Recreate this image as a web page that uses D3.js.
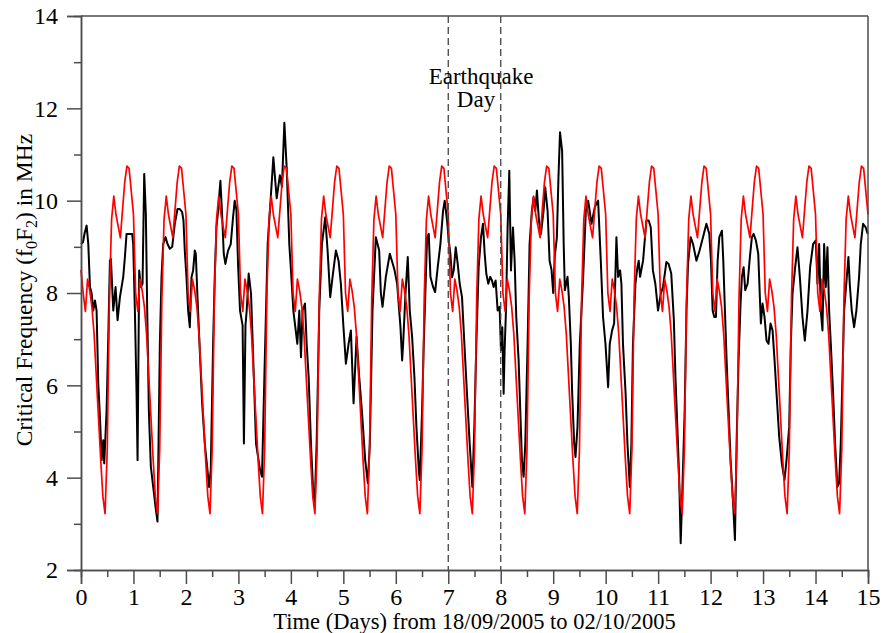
<!DOCTYPE html>
<html><head><meta charset="utf-8">
<script src="https://cdn.jsdelivr.net/npm/d3@7"></script>
<style>html,body{margin:0;padding:0;background:#fff}svg{display:block}</style>
</head><body><svg id="c" width="888" height="633"></svg>
<script>
// Hourly model (median) foF2 values, MHz, from day 0 00:00 to day 15 00:00
const medianFoF2 = [
8.5,8.0,7.6,8.3,8.05,7.7,7.1,6.2,5.3,4.4,3.6,3.22,4.6,7.9,9.6,10.1,9.7,9.45,9.2,9.8,10.4,10.75,10.7,10.2,
9.7,8.0,7.6,8.3,8.05,7.7,7.1,6.2,5.3,4.4,3.6,3.22,4.6,7.9,9.6,10.1,9.7,9.45,9.2,9.8,10.4,10.75,10.7,10.2,
9.7,8.0,7.6,8.3,8.05,7.7,7.1,6.2,5.3,4.4,3.6,3.22,4.6,7.9,9.6,10.1,9.7,9.45,9.2,9.8,10.4,10.75,10.7,10.2,
9.7,8.0,7.6,8.3,8.05,7.7,7.1,6.2,5.3,4.4,3.6,3.22,4.6,7.9,9.6,10.1,9.7,9.45,9.2,9.8,10.4,10.75,10.7,10.2,
9.7,8.0,7.6,8.3,8.05,7.7,7.1,6.2,5.3,4.4,3.6,3.22,4.6,7.9,9.6,10.1,9.7,9.45,9.2,9.8,10.4,10.75,10.7,10.2,
9.7,8.0,7.6,8.3,8.05,7.7,7.1,6.2,5.3,4.4,3.6,3.22,4.6,7.9,9.6,10.1,9.7,9.45,9.2,9.8,10.4,10.75,10.7,10.2,
9.7,8.0,7.6,8.3,8.05,7.7,7.1,6.2,5.3,4.4,3.6,3.22,4.6,7.9,9.6,10.1,9.7,9.45,9.2,9.8,10.4,10.75,10.7,10.2,
9.7,8.0,7.6,8.3,8.05,7.7,7.1,6.2,5.3,4.4,3.6,3.22,4.6,7.9,9.6,10.1,9.7,9.45,9.2,9.8,10.4,10.75,10.7,10.2,
9.7,8.0,7.6,8.3,8.05,7.7,7.1,6.2,5.3,4.4,3.6,3.22,4.6,7.9,9.6,10.1,9.7,9.45,9.2,9.8,10.4,10.75,10.7,10.2,
9.7,8.0,7.6,8.3,8.05,7.7,7.1,6.2,5.3,4.4,3.6,3.22,4.6,7.9,9.6,10.1,9.7,9.45,9.2,9.8,10.4,10.75,10.7,10.2,
9.7,8.0,7.6,8.3,8.05,7.7,7.1,6.2,5.3,4.4,3.6,3.22,4.6,7.9,9.6,10.1,9.7,9.45,9.2,9.8,10.4,10.75,10.7,10.2,
9.7,8.0,7.6,8.3,8.05,7.7,7.1,6.2,5.3,4.4,3.6,3.22,4.6,7.9,9.6,10.1,9.7,9.45,9.2,9.8,10.4,10.75,10.7,10.2,
9.7,8.0,7.6,8.3,8.05,7.7,7.1,6.2,5.3,4.4,3.6,3.22,4.6,7.9,9.6,10.1,9.7,9.45,9.2,9.8,10.4,10.75,10.7,10.2,
9.7,8.0,7.6,8.3,8.05,7.7,7.1,6.2,5.3,4.4,3.6,3.22,4.6,7.9,9.6,10.1,9.7,9.45,9.2,9.8,10.4,10.75,10.7,10.2,
9.7,8.0,7.6,8.3,8.05,7.7,7.1,6.2,5.3,4.4,3.6,3.22,4.6,7.9,9.6,10.1,9.7,9.45,9.2,9.8,10.4,10.75,10.7,10.2,
9.7
];

// Observed foF2: [day, MHz]
const observedFoF2 = [
[0,9.06],[0.037,9.1],[0.07,9.3],[0.107,9.46],[0.139,9.06],[0.171,8.13],[0.202,8.0],[0.234,7.62],[0.266,7.84],[0.297,7.62],[0.329,6.04],[0.361,5.32],[0.393,4.38],[0.424,4.81],[0.443,4.31],[0.488,5.46],[0.52,7.05],[0.551,8.7],[0.57,8.74],[0.615,7.62],[0.659,8.13],[0.697,7.41],[0.742,7.91],[0.805,8.35],[0.837,8.78],[0.868,9.28],[0.9,9.28],[0.976,9.28],[0.995,9.06],
[1.027,7.62],[1.059,5.82],[1.078,4.38],[1.109,8.49],[1.141,8.13],[1.173,8.2],[1.205,10.58],[1.236,9.71],[1.262,7.62],[1.293,5.46],[1.331,4.24],[1.376,3.8],[1.42,3.37],[1.458,3.05],[1.503,6.9],[1.535,8.35],[1.566,9.06],[1.611,9.21],[1.649,9.06],[1.693,8.96],[1.738,9.0],[1.788,9.5],[1.839,9.82],[1.883,9.82],[1.928,9.75],[1.953,9.57],[1.978,8.92],
[2.01,8.35],[2.042,7.62],[2.074,7.26],[2.106,8.34],[2.137,8.49],[2.169,8.92],[2.188,8.85],[2.22,7.91],[2.264,6.76],[2.309,5.61],[2.359,4.74],[2.41,4.17],[2.441,3.8],[2.473,4.17],[2.518,6.9],[2.549,8.35],[2.581,9.42],[2.613,9.78],[2.657,10.43],[2.689,9.71],[2.721,8.85],[2.752,8.63],[2.803,8.92],[2.854,9.06],[2.898,9.64],[2.93,10.0],[2.962,9.8],[2.994,8.6],
[3.031,7.62],[3.08,7.3],[3.105,4.74],[3.135,7.3],[3.158,7.62],[3.196,8.42],[3.241,7.98],[3.285,6.5],[3.336,4.74],[3.412,4.17],[3.45,4.02],[3.495,6.18],[3.558,9.06],[3.609,9.93],[3.666,10.94],[3.73,10.05],[3.79,10.55],[3.83,10.3],[3.876,11.69],[3.92,10.72],[3.97,9.06],
[4.002,8.49],[4.047,7.62],[4.085,7.26],[4.123,6.9],[4.161,7.62],[4.193,6.61],[4.224,7.62],[4.269,7.77],[4.301,6.9],[4.339,6.18],[4.383,4.74],[4.427,3.66],[4.453,3.37],[4.491,4.74],[4.541,7.62],[4.592,9.06],[4.655,9.64],[4.7,8.92],[4.75,7.91],[4.795,8.35],[4.858,8.92],[4.909,8.7],[4.953,8.2],[4.998,7.34],
[5.049,6.47],[5.1,6.9],[5.144,7.19],[5.195,5.61],[5.252,7.05],[5.303,6.18],[5.353,5.46],[5.417,4.38],[5.467,3.88],[5.505,4.74],[5.556,7.62],[5.62,9.21],[5.683,8.92],[5.715,8.0],[5.747,7.7],[5.81,8.35],[5.886,8.85],[5.95,8.6],[5.975,8.5],
[6.025,8.2],[6.089,7.26],[6.121,6.54],[6.14,6.9],[6.184,7.98],[6.228,8.78],[6.266,7.62],[6.311,7.05],[6.355,6.18],[6.393,5.1],[6.438,4.17],[6.457,3.95],[6.501,5.46],[6.533,6.9],[6.565,8.06],[6.596,9.21],[6.628,9.28],[6.66,8.35],[6.71,8.13],[6.749,8.02],[6.799,8.56],[6.85,9.06],[6.901,9.78],[6.932,10.0],[6.977,9.57],
[7.009,9.14],[7.04,8.85],[7.072,8.34],[7.104,8.49],[7.142,8.99],[7.18,8.63],[7.218,8.2],[7.262,7.91],[7.307,6.9],[7.357,5.82],[7.408,4.74],[7.459,3.8],[7.497,5.1],[7.535,6.9],[7.579,8.56],[7.624,9.21],[7.662,9.5],[7.694,8.85],[7.725,8.42],[7.763,8.2],[7.801,8.35],[7.833,8.27],[7.865,8.13],[7.903,8.27],[7.941,7.62],[7.979,7.7],
[8.004,6.76],[8.03,7.26],[8.055,5.82],[8.074,6.76],[8.1,7.62],[8.131,9.42],[8.163,10.65],[8.195,8.49],[8.233,9.42],[8.265,8.7],[8.296,7.48],[8.341,6.54],[8.372,5.46],[8.404,4.38],[8.436,4.02],[8.468,4.74],[8.512,6.9],[8.55,9.06],[8.594,9.78],[8.626,10.07],[8.658,9.78],[8.69,10.22],[8.728,9.57],[8.766,9.28],[8.816,9.78],[8.848,10.29],[8.893,9.78],[8.931,8.7],[8.968,8.5],
[9.0,8.0],[9.03,8.8],[9.07,9.2],[9.1,10.5],[9.13,11.48],[9.17,11.08],[9.2,9.06],[9.222,8.06],[9.273,8.35],[9.298,7.91],[9.336,6.9],[9.362,5.82],[9.4,4.74],[9.425,4.45],[9.463,5.1],[9.507,6.9],[9.571,8.35],[9.622,9.78],[9.666,10.0],[9.73,9.5],[9.793,9.86],[9.856,10.0],[9.907,8.7],[9.95,7.48],[9.996,6.9],
[10.047,5.96],[10.078,6.9],[10.123,7.19],[10.161,7.34],[10.205,9.21],[10.237,8.35],[10.275,8.49],[10.3,8.2],[10.33,6.9],[10.38,5.82],[10.415,4.74],[10.46,3.8],[10.49,4.74],[10.52,6.9],[10.567,8.2],[10.605,8.56],[10.63,8.7],[10.656,8.35],[10.713,8.7],[10.776,9.57],[10.82,9.57],[10.86,9.42],[10.9,8.49],[10.947,8.2],[10.998,7.62],
[11.05,7.98],[11.093,8.13],[11.157,8.67],[11.2,8.63],[11.25,8.42],[11.3,7.41],[11.33,6.18],[11.366,5.1],[11.4,4.02],[11.43,2.58],[11.46,3.66],[11.506,5.46],[11.54,7.62],[11.57,8.63],[11.62,9.21],[11.665,9.06],[11.73,8.7],[11.79,8.92],[11.855,9.21],[11.92,9.5],[11.975,9.28],
[12.007,8.7],[12.039,7.62],[12.07,7.48],[12.102,7.48],[12.134,8.7],[12.166,9.21],[12.216,9.35],[12.242,8.7],[12.273,7.62],[12.305,6.54],[12.343,5.46],[12.381,4.38],[12.419,3.66],[12.445,3.08],[12.464,2.65],[12.495,4.74],[12.533,6.54],[12.571,7.77],[12.597,8.35],[12.629,8.56],[12.66,8.06],[12.705,8.2],[12.749,8.78],[12.787,9.21],[12.819,9.28],[12.863,9.14],[12.908,8.85],[12.939,7.91],[12.958,7.34],[12.99,7.77],
[13.028,7.48],[13.066,6.97],[13.104,6.9],[13.142,7.34],[13.181,7.19],[13.219,6.54],[13.257,5.82],[13.307,4.89],[13.358,4.31],[13.409,3.95],[13.447,4.38],[13.498,5.1],[13.529,6.9],[13.561,7.98],[13.612,8.56],[13.656,8.99],[13.701,8.35],[13.751,7.48],[13.796,6.97],[13.847,7.62],[13.897,8.56],[13.954,9.06],
[14.005,9.14],[14.037,8.2],[14.069,9.06],[14.1,7.62],[14.132,7.19],[14.164,9.06],[14.196,8.13],[14.227,8.99],[14.259,7.62],[14.291,6.9],[14.335,5.82],[14.373,4.74],[14.417,3.8],[14.449,3.88],[14.481,4.74],[14.513,6.18],[14.544,7.62],[14.576,8.06],[14.627,8.78],[14.652,8.2],[14.69,7.62],[14.735,7.26],[14.779,7.62],[14.83,8.35],[14.862,9.06],[14.906,9.5],[14.957,9.42],[14.995,9.28]
];

const xMajorTicks = [0,1,2,3,4,5,6,7,8,9,10,11,12,13,14,15];
const xMinorTicks = [0.5,1.5,2.5,3.5,4.5,5.5,6.5,7.5,8.5,9.5,10.5,11.5,12.5,13.5,14.5];
const yMajorTicks = [2,4,6,8,10,12,14];
const yMinorTicks = [3,5,7,9,11,13];
const earthquakeDays = [7,8];
const earthquakeLabel = ["Earthquake","Day"];
const xTitle = "Time (Days) from 18/09/2005 to 02/10/2005";

const FONT = '"Liberation Serif","Times New Roman",Times,serif';
const AXIS = '#4d4d4d';
const svg = d3.select('#c');
const x = d3.scaleLinear().domain([0,15]).range([81,868]);
const y = d3.scaleLinear().domain([2,14]).range([570,16]);

// data lines
const obsLine = d3.line().x(d=>x(d[0])).y(d=>y(d[1]));
svg.append('path').datum(observedFoF2).attr('d',obsLine)
  .attr('fill','none').attr('stroke','#000').attr('stroke-width',2).attr('stroke-linejoin','round');
const medLine = d3.line().x((d,i)=>x(i/24)).y(d=>y(d));
svg.append('path').datum(medianFoF2).attr('d',medLine)
  .attr('fill','none').attr('stroke','#ff0000').attr('stroke-width',1.7).attr('stroke-linejoin','round');

// earthquake day markers
svg.selectAll('line.eq').data(earthquakeDays).enter().append('line')
  .attr('x1',d=>x(d)).attr('x2',d=>x(d)).attr('y1',y(14)).attr('y2',y(2))
  .attr('stroke','#444').attr('stroke-width',1.3).attr('stroke-dasharray','7,4');
const labelX = [481, 476];
svg.append('text').attr('y',84)
  .attr('text-anchor','middle').attr('font-family',FONT).attr('font-size',23).attr('fill','#000')
  .selectAll('tspan').data(earthquakeLabel).enter().append('tspan')
  .attr('x',(d,i)=>labelX[i]).attr('dy',(d,i)=>i===0?0:23).text(d=>d);

// frame
svg.append('line').attr('x1',x(0)).attr('x2',x(15)).attr('y1',y(14)).attr('y2',y(14)).attr('stroke',AXIS).attr('stroke-width',1.5);
svg.append('line').attr('x1',x(15)).attr('x2',x(15)).attr('y1',y(14)).attr('y2',y(2)).attr('stroke',AXIS).attr('stroke-width',1.5);

function styleAxis(g){
  g.select('.domain').attr('stroke',AXIS).attr('stroke-width',1.5);
  g.selectAll('.tick line').attr('stroke',AXIS).attr('stroke-width',1.5);
  g.selectAll('.tick text').attr('font-family',FONT).attr('font-size',24).attr('fill','#000');
}
// y axis
svg.append('g').attr('transform',`translate(${x(0)},0)`)
  .call(d3.axisLeft(y).tickValues(yMinorTicks).tickSize(7).tickFormat(''))
  .call(styleAxis);
svg.append('g').attr('transform',`translate(${x(0)},0)`)
  .call(d3.axisLeft(y).tickValues(yMajorTicks).tickSize(14).tickPadding(9).tickFormat(d3.format('d')))
  .call(styleAxis);
// x axis
svg.append('g').attr('transform',`translate(0,${y(2)})`)
  .call(d3.axisBottom(x).tickValues(xMinorTicks).tickSize(7).tickFormat(''))
  .call(styleAxis);
svg.append('g').attr('transform',`translate(0,${y(2)})`)
  .call(d3.axisBottom(x).tickValues(xMajorTicks).tickSize(14).tickPadding(4).tickFormat(d3.format('d')))
  .call(styleAxis);

// titles
svg.append('text').attr('x',(x(0)+x(15))/2).attr('y',629).attr('text-anchor','middle')
  .attr('font-family',FONT).attr('font-size',22.5).attr('fill','#000').text(xTitle);
const yt = svg.append('text').attr('transform',`translate(32,${(y(2)+y(14))/2 - 3}) rotate(-90)`)
  .attr('text-anchor','middle').attr('font-family',FONT).attr('font-size',23.5).attr('fill','#000');
yt.append('tspan').text('Critical Frequency (f');
yt.append('tspan').attr('font-size',16).attr('dy',5).text('0');
yt.append('tspan').attr('dy',-5).text('F');
yt.append('tspan').attr('font-size',16).attr('dy',5).text('2');
yt.append('tspan').attr('dy',-5).text(') in MHz');
</script></body></html>
